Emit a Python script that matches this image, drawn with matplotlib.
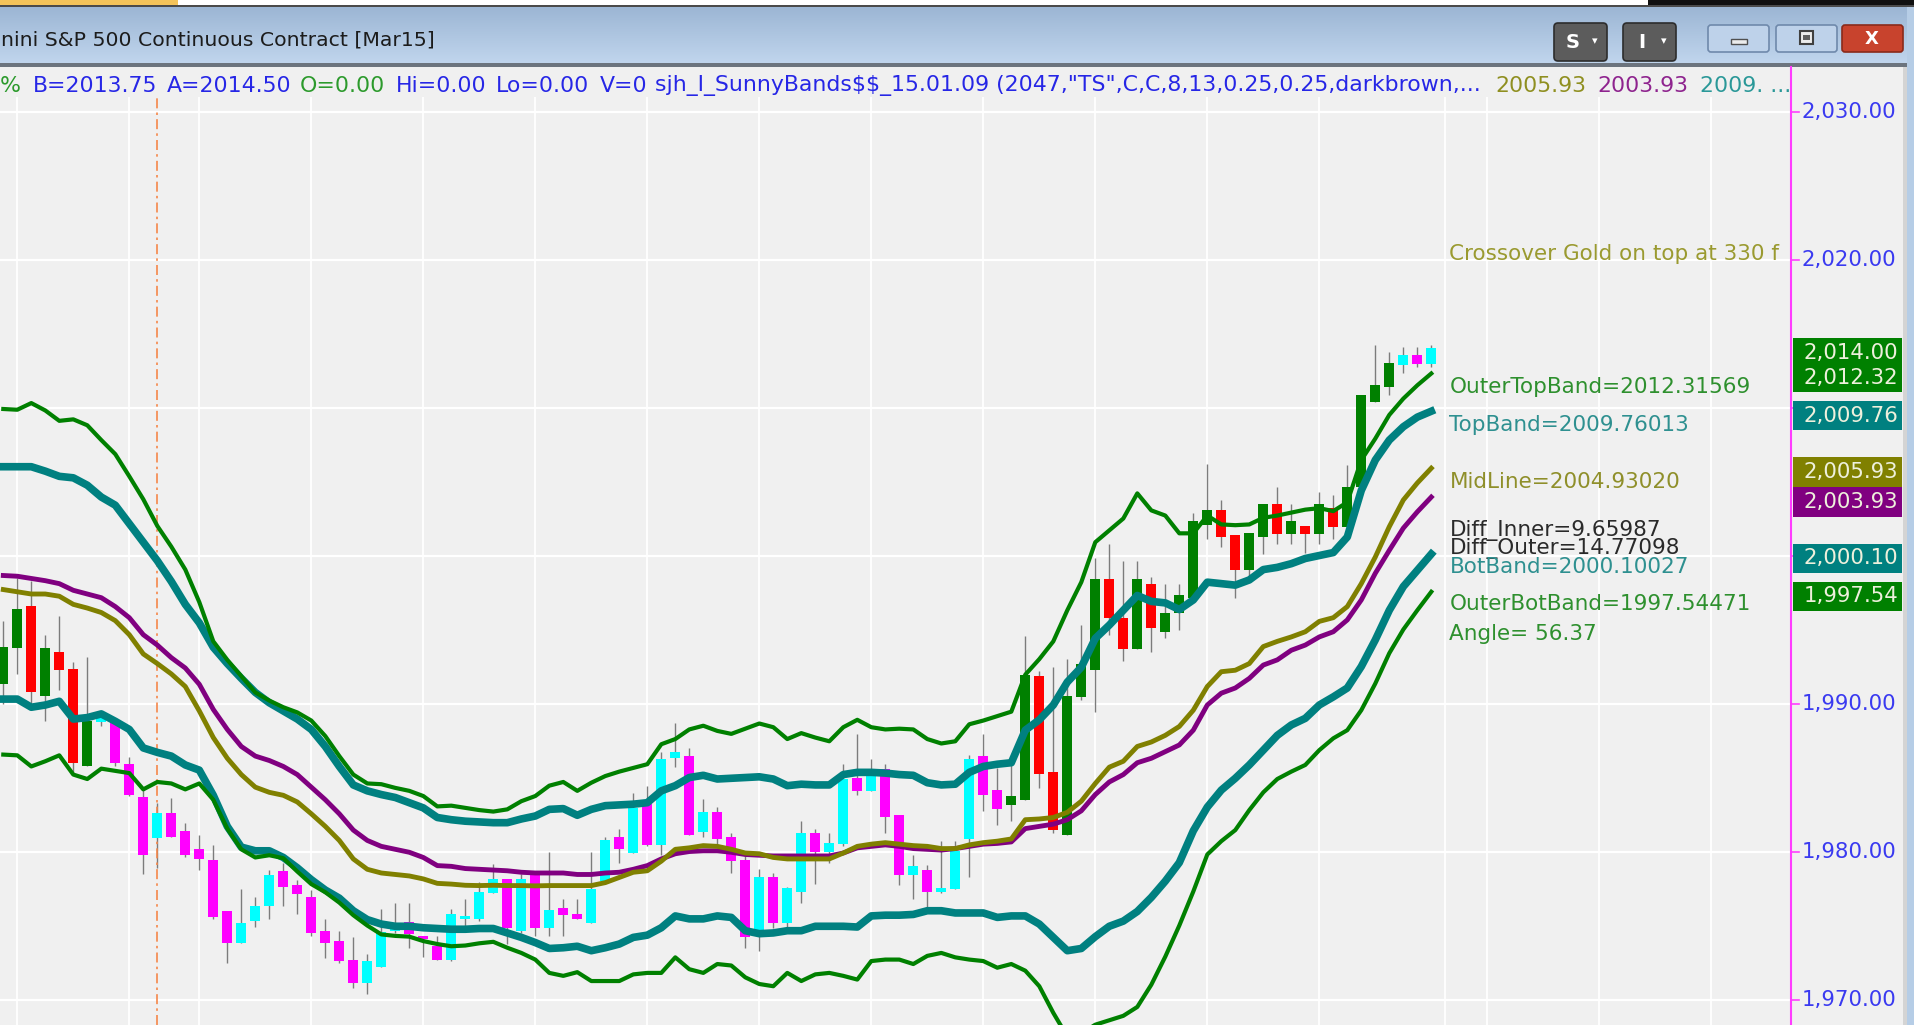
import numpy as np
import matplotlib
matplotlib.use("Agg")
import matplotlib.pyplot as plt
from matplotlib.patches import Rectangle, FancyBboxPatch
from matplotlib.lines import Line2D

plt.rcParams['text.parse_math'] = False

# ---------------- data ----------------
bar_open = [1991.3, 1993.75, 1996.6, 1990.5, 1993.5, 1992.3, 1985.75, 1988.75, 1988.75, 1985.9,
            1983.7, 1980.9, 1982.6, 1981.4, 1980.2, 1979.4, 1976.0, 1973.85, 1975.3, 1976.3,
            1978.7, 1977.75, 1976.9, 1974.6, 1973.95, 1972.7, 1971.1, 1972.2, 1974.6, 1975.25,
            1974.3, 1973.6, 1972.7, 1975.45, 1975.45, 1977.2, 1978.15, 1974.65, 1978.45, 1974.85,
            1976.2, 1975.8, 1975.2, 1978.0, 1980.95, 1979.9, 1983.2, 1980.45, 1986.35, 1986.45,
            1981.35, 1982.7, 1980.95, 1979.45, 1974.3, 1978.25, 1975.2, 1977.25, 1981.25, 1979.95,
            1980.5, 1985.0, 1984.1, 1985.55, 1982.45, 1978.4, 1978.75, 1977.25, 1977.45, 1980.85,
            1986.45, 1984.15, 1983.15, 1983.5, 1991.85, 1985.4, 1981.1, 1990.45, 1992.25, 1998.4,
            1995.8, 1993.7, 1998.1, 1994.8, 1996.1, 1997.1, 2002.05, 2003.05, 2001.4, 1999.0,
            2001.25, 2003.5, 2001.45, 2002.0, 2001.45, 2003.2, 2001.95, 2004.65, 2010.4, 2011.4,
            2012.9, 2013.55, 2012.95]
bar_high = [1995.6, 1998.5, 1998.25, 1994.6, 1995.9, 1992.8, 1993.15, 1989.25, 1988.75, 1986.4,
            1984.2, 1983.25, 1983.65, 1981.9, 1981.15, 1980.45, 1976.0, 1977.45, 1976.9, 1978.75,
            1979.2, 1978.1, 1977.4, 1975.45, 1974.6, 1974.2, 1973.1, 1976.1, 1976.5, 1976.5,
            1974.3, 1974.3, 1976.1, 1976.8, 1977.95, 1979.15, 1978.15, 1978.5, 1978.5, 1979.95,
            1976.8, 1976.8, 1979.95, 1980.95, 1981.5, 1983.95, 1984.45, 1986.7, 1988.7, 1987.0,
            1983.55, 1983.0, 1981.25, 1979.7, 1978.8, 1978.55, 1977.6, 1982.05, 1981.5, 1981.25,
            1985.9, 1987.95, 1986.25, 1985.9, 1982.45, 1979.75, 1979.1, 1980.7, 1980.7, 1986.5,
            1987.95, 1985.65, 1986.25, 1994.55, 1992.2, 1992.5, 1993.0, 1995.3, 1999.8, 2000.8,
            1999.65, 1999.65, 1998.55, 1998.1, 1998.1, 2002.9, 2006.2, 2003.75, 2001.4, 2001.5,
            2003.5, 2004.65, 2003.5, 2002.0, 2004.3, 2004.1, 2006.1, 2010.85, 2014.2, 2013.75,
            2014.1, 2014.1, 2014.25]
bar_low = [1990.0, 1992.0, 1990.0, 1988.85, 1990.9, 1985.3, 1985.75, 1988.5, 1985.75, 1983.75,
           1978.5, 1978.9, 1981.0, 1979.6, 1978.75, 1975.45, 1972.5, 1973.85, 1974.9, 1975.45,
           1976.3, 1975.75, 1974.3, 1972.8, 1972.5, 1970.8, 1970.4, 1972.2, 1974.5, 1973.5,
           1972.85, 1972.7, 1972.6, 1975.0, 1975.3, 1977.2, 1973.75, 1974.5, 1974.3, 1974.3,
           1974.3, 1975.45, 1975.2, 1978.0, 1979.2, 1979.9, 1980.35, 1979.75, 1985.7, 1981.1,
           1980.95, 1980.5, 1978.55, 1973.5, 1973.3, 1974.85, 1974.9, 1976.55, 1977.8, 1979.25,
           1980.4, 1983.85, 1984.1, 1981.25, 1977.75, 1976.8, 1976.2, 1977.2, 1977.45, 1978.25,
           1982.75, 1981.8, 1982.05, 1983.45, 1984.3, 1981.25, 1981.1, 1990.25, 1989.45, 1994.6,
           1992.9, 1993.7, 1993.45, 1994.4, 1994.95, 1997.1, 2001.15, 2000.6, 1997.1, 1998.55,
           2000.1, 2000.8, 2000.8, 2000.15, 2000.8, 2001.15, 2001.95, 2004.45, 2010.4, 2010.85,
           2012.35, 2012.75, 2012.75]
bar_close = [1993.8, 1996.4, 1990.75, 1993.75, 1992.25, 1986.0, 1988.8, 1989.0, 1986.0, 1983.85,
             1979.75, 1982.6, 1981.0, 1979.75, 1979.5, 1975.6, 1973.85, 1975.2, 1976.3, 1978.4,
             1977.6, 1977.1, 1974.5, 1973.85, 1972.6, 1971.15, 1972.6, 1974.55, 1975.1, 1974.4,
             1974.1, 1972.7, 1975.8, 1975.55, 1977.25, 1978.15, 1974.85, 1978.15, 1974.85, 1976.05,
             1975.7, 1975.45, 1977.45, 1980.8, 1980.15, 1982.95, 1980.45, 1986.25, 1986.75, 1981.1,
             1982.7, 1980.85, 1979.35, 1974.25, 1978.25, 1975.2, 1977.55, 1981.25, 1979.95, 1980.55,
             1984.9, 1984.1, 1985.55, 1982.35, 1978.4, 1979.05, 1977.25, 1977.55, 1980.05, 1986.25,
             1983.8, 1982.9, 1983.75, 1991.95, 1985.25, 1981.45, 1990.5, 1992.7, 1998.4, 1995.75,
             1993.7, 1998.4, 1995.1, 1996.1, 1997.35, 2002.3, 2003.05, 2001.25, 1999.0, 2001.5,
             2003.5, 2001.45, 2002.3, 2001.45, 2003.5, 2001.95, 2004.6, 2010.85, 2011.5, 2013.0,
             2013.55, 2012.95, 2014.0]
# 1 = trend colouring (green / red), 0 = neutral colouring (cyan / magenta)
bar_regime = [1, 1, 1, 1, 1, 1, 1, 0, 0, 0,
              0, 0, 0, 0, 0, 0, 0, 0, 0, 0,
              0, 0, 0, 0, 0, 0, 0, 0, 0, 0,
              0, 0, 0, 0, 0, 0, 0, 0, 0, 0,
              0, 0, 0, 0, 0, 0, 0, 0, 0, 0,
              0, 0, 0, 0, 0, 0, 0, 0, 0, 0,
              0, 0, 0, 0, 0, 0, 0, 0, 0, 0,
              0, 0, 1, 1, 1, 1, 1, 1, 1, 1,
              1, 1, 1, 1, 1, 1, 1, 1, 1, 1,
              1, 1, 1, 1, 1, 1, 1, 1, 1, 1,
              0, 0, 0]

outer_top = [2009.9, 2009.85, 2010.3, 2009.8, 2009.1, 2009.2, 2008.8, 2007.8, 2006.85, 2005.35,
             2003.8, 2002.0, 2000.6, 1999.05, 1996.85, 1994.2, 1992.95, 1991.85, 1990.75, 1990.2,
             1989.75, 1989.4, 1988.85, 1987.8, 1986.45, 1985.2, 1984.6, 1984.55, 1984.3, 1984.1,
             1983.75, 1983.05, 1983.1, 1982.95, 1982.8, 1982.7, 1982.85, 1983.4, 1983.75, 1984.45,
             1984.7, 1984.1, 1984.65, 1985.1, 1985.4, 1985.65, 1985.9, 1987.25, 1987.6, 1988.25,
             1988.5, 1988.15, 1987.95, 1988.3, 1988.65, 1988.4, 1987.6, 1988.0, 1987.7, 1987.45,
             1988.4, 1988.9, 1988.4, 1988.25, 1988.3, 1988.25, 1987.6, 1987.3, 1987.45, 1988.6,
             1988.85, 1989.15, 1989.45, 1991.95, 1993.0, 1994.2, 1996.3, 1998.2, 2000.9, 2001.7,
             2002.5, 2004.2, 2003.05, 2002.7, 2001.5, 2001.5, 2002.7, 2002.1, 2002.05, 2002.1,
             2002.55, 2002.7, 2002.9, 2003.1, 2003.2, 2003.0, 2003.6, 2006.45, 2007.9, 2009.5,
             2010.6, 2011.5, 2012.3]
top_band = [2006.0, 2006.0, 2006.0, 2005.7, 2005.35, 2005.25, 2004.75, 2003.95, 2003.4, 2002.15,
            2000.9, 1999.65, 1998.25, 1996.7, 1995.45, 1993.8, 1992.7, 1991.7, 1990.75, 1990.05,
            1989.5, 1988.95, 1988.25, 1987.1, 1985.75, 1984.5, 1984.1, 1983.85, 1983.65, 1983.3,
            1982.95, 1982.3, 1982.15, 1982.05, 1982.0, 1981.95, 1981.95, 1982.2, 1982.4, 1982.85,
            1982.9, 1982.45, 1982.85, 1983.1, 1983.15, 1983.2, 1983.3, 1984.1, 1984.45, 1985.0,
            1985.15, 1984.9, 1984.95, 1985.0, 1985.05, 1984.9, 1984.45, 1984.55, 1984.5, 1984.5,
            1985.2, 1985.35, 1985.35, 1985.3, 1985.2, 1985.15, 1984.65, 1984.5, 1984.55, 1985.35,
            1985.75, 1985.9, 1986.0, 1988.2, 1988.9, 1989.9, 1991.45, 1992.45, 1994.4, 1995.3,
            1996.3, 1997.3, 1996.9, 1996.8, 1996.35, 1997.0, 1998.2, 1998.1, 1998.0, 1998.35,
            1999.05, 1999.2, 1999.45, 1999.8, 2000.0, 2000.2, 2001.25, 2004.4, 2006.45, 2007.8,
            2008.7, 2009.35, 2009.75]
mid_line = [1997.7, 1997.55, 1997.4, 1997.4, 1997.25, 1996.7, 1996.45, 1996.15, 1995.6, 1994.65,
            1993.35, 1992.7, 1992.0, 1991.15, 1989.5, 1987.7, 1986.3, 1985.2, 1984.35, 1984.0,
            1983.8, 1983.35, 1982.55, 1981.7, 1980.75, 1979.5, 1978.8, 1978.55, 1978.45, 1978.35,
            1978.15, 1977.85, 1977.8, 1977.72, 1977.7, 1977.72, 1977.7, 1977.7, 1977.68, 1977.7,
            1977.7, 1977.7, 1977.7, 1977.9, 1978.25, 1978.6, 1978.7, 1979.35, 1980.15, 1980.25,
            1980.4, 1980.35, 1980.15, 1979.9, 1979.85, 1979.6, 1979.5, 1979.5, 1979.5, 1979.5,
            1979.9, 1980.35, 1980.5, 1980.6, 1980.5, 1980.4, 1980.35, 1980.2, 1980.2, 1980.45,
            1980.6, 1980.7, 1980.85, 1982.15, 1982.2, 1982.3, 1982.65, 1983.4, 1984.6, 1985.7,
            1986.1, 1987.1, 1987.4, 1987.85, 1988.45, 1989.55, 1991.15, 1992.15, 1992.25, 1992.7,
            1993.85, 1994.2, 1994.5, 1994.85, 1995.55, 1995.8, 1996.55, 1998.1, 1999.9, 2001.95,
            2003.75, 2004.9, 2005.9]
purple_line = [1998.65, 1998.6, 1998.45, 1998.3, 1998.1, 1997.65, 1997.4, 1997.15, 1996.55, 1995.8,
               1994.65, 1993.95, 1993.1, 1992.4, 1991.3, 1989.6, 1988.25, 1987.1, 1986.45, 1986.15,
               1985.75, 1985.2, 1984.35, 1983.5, 1982.55, 1981.45, 1980.75, 1980.35, 1980.15, 1979.95,
               1979.6, 1979.05, 1979.0, 1978.85, 1978.8, 1978.75, 1978.7, 1978.6, 1978.55, 1978.55,
               1978.55, 1978.45, 1978.45, 1978.55, 1978.6, 1978.8, 1979.05, 1979.5, 1979.85, 1980.0,
               1980.05, 1980.05, 1979.95, 1979.8, 1979.75, 1979.7, 1979.7, 1979.7, 1979.7, 1979.7,
               1979.9, 1980.25, 1980.35, 1980.45, 1980.35, 1980.2, 1980.15, 1980.1, 1980.2, 1980.35,
               1980.5, 1980.55, 1980.65, 1981.55, 1981.7, 1981.85, 1982.15, 1982.75, 1983.85, 1984.7,
               1985.2, 1986.0, 1986.3, 1986.75, 1987.2, 1988.2, 1989.9, 1990.7, 1991.05, 1991.7,
               1992.6, 1992.95, 1993.6, 1993.95, 1994.5, 1994.85, 1995.65, 1997.0, 1998.8, 2000.35,
               2001.85, 2002.95, 2003.95]
bot_band = [1990.3, 1990.3, 1989.75, 1989.9, 1990.15, 1988.95, 1989.05, 1989.3, 1988.8, 1988.25,
            1987.0, 1986.7, 1986.45, 1985.85, 1985.5, 1983.8, 1981.7, 1980.3, 1980.05, 1980.05,
            1979.6, 1978.9, 1978.1, 1977.4, 1976.85, 1976.0, 1975.4, 1975.1, 1974.95, 1974.95,
            1974.85, 1974.8, 1974.75, 1974.75, 1974.8, 1974.8, 1974.5, 1974.2, 1973.85, 1973.45,
            1973.5, 1973.6, 1973.3, 1973.5, 1973.75, 1974.2, 1974.35, 1974.85, 1975.65, 1975.45,
            1975.45, 1975.65, 1975.55, 1974.65, 1974.45, 1974.5, 1974.65, 1974.65, 1974.95, 1974.95,
            1974.95, 1974.9, 1975.65, 1975.7, 1975.7, 1975.75, 1976.0, 1976.0, 1975.85, 1975.85,
            1975.85, 1975.55, 1975.65, 1975.65, 1975.1, 1974.2, 1973.3, 1973.45, 1974.25, 1974.95,
            1975.3, 1975.95, 1976.9, 1978.0, 1979.25, 1981.4, 1983.0, 1984.15, 1984.95, 1985.85,
            1986.85, 1987.85, 1988.55, 1989.0, 1989.9, 1990.45, 1991.05, 1992.5, 1994.3, 1996.3,
            1997.9, 1999.0, 2000.1]
outer_bot = [1986.55, 1986.5, 1985.75, 1986.1, 1986.5, 1985.2, 1984.9, 1985.6, 1985.45, 1985.3,
             1984.2, 1984.7, 1984.6, 1984.2, 1984.6, 1983.5, 1981.55, 1980.15, 1979.6, 1979.75,
             1979.55, 1978.65, 1977.8, 1977.25, 1976.55, 1975.7, 1975.0, 1974.4, 1974.3, 1974.25,
             1973.95, 1973.75, 1973.6, 1973.65, 1973.8, 1973.9, 1973.5, 1973.15, 1972.7, 1971.8,
             1971.6, 1971.85, 1971.25, 1971.25, 1971.25, 1971.7, 1971.8, 1971.8, 1972.85, 1972.05,
             1971.8, 1972.4, 1972.3, 1971.5, 1971.05, 1970.9, 1971.8, 1971.25, 1971.7, 1971.8,
             1971.6, 1971.35, 1972.6, 1972.7, 1972.7, 1972.4, 1972.95, 1973.15, 1972.85, 1972.7,
             1972.6, 1972.15, 1972.4, 1971.95, 1970.9, 1969.1, 1967.5, 1967.7, 1968.3, 1968.6,
             1968.9, 1969.5, 1971.0, 1972.9, 1975.0, 1977.3, 1979.8, 1980.7, 1981.45, 1982.8,
             1984.0, 1984.9, 1985.4, 1985.85, 1986.85, 1987.65, 1988.2, 1989.55, 1991.35, 1993.4,
             1995.0, 1996.3, 1997.55]

y_ticks = [2030, 2020, 2010, 2000, 1990, 1980, 1970]
grid_bars = [1, 9, 14, 22, 30, 38, 46, 54, 62, 70, 78, 86, 94, 103, 106, 114, 122]
marker_bar = 11

# last-value boxes on the price axis (groups that touch are merged)
box_values = [[2014.00, 2012.32], [2009.76], [2005.93], [2003.93], [2000.10], [1997.54]]
box_colors = ['#008000', '#008080', '#808000', '#800080', '#008080', '#008000']

indicator_texts = ["Crossover Gold on top at 330 f", "OuterTopBand=2012.31569", "TopBand=2009.76013",
                   "MidLine=2004.93020", "Diff_Inner=9.65987", "Diff_Outer=14.77098",
                   "BotBand=2000.10027", "OuterBotBand=1997.54471", "Angle= 56.37"]

status_texts = ["%", "B=2013.75", "A=2014.50", "O=0.00", "Hi=0.00", "Lo=0.00", "V=0",
                'sjh_I_SunnyBands$$_15.01.09 (2047,"TS",C,C,8,13,0.25,0.25,darkbrown,...',
                "2005.93", "2003.93", "2009. ..."]

title_text = "nini S&P 500 Continuous Contract [Mar15]"

# ---------------- figure ----------------
W, H = 1915, 1025
DPI = 100
BG = '#f0f0f0'
fig = plt.figure(figsize=(W / DPI, H / DPI), dpi=DPI, facecolor=BG)

# window chrome, in pixel coordinates
axc = fig.add_axes([0, 0, 1, 1], zorder=0)
axc.set_facecolor(BG)
grad = np.linspace(0, 1, 64)[:, None, None]
top_col = np.array([156, 182, 212]) / 255.0
bot_col = np.array([192, 213, 237]) / 255.0
img = top_col[None, None, :] * (1 - grad) + bot_col[None, None, :] * grad
axc.imshow(img, extent=(0, W, 63, 7), aspect='auto', origin='upper', zorder=0, interpolation='bilinear')
axc.set_xlim(0, W)
axc.set_ylim(H, 0)
axc.axis('off')

axc.add_patch(Rectangle((0, 0), 178, 5, facecolor='#f3c35a', edgecolor='none', zorder=1))
axc.add_patch(Rectangle((178, 0), 1470, 5, facecolor='white', edgecolor='none', zorder=1))
axc.add_patch(Rectangle((1648, 0), W - 1648, 5, facecolor='#101010', edgecolor='none', zorder=1))
axc.add_patch(Rectangle((0, 5), W, 2, facecolor='#4a4a4a', edgecolor='none', zorder=1))
axc.add_patch(Rectangle((0, 63), W, 4, facecolor='#6c747e', edgecolor='none', zorder=1))
axc.add_patch(Rectangle((1903, 67), 4, H - 67, facecolor='#d4d4d4', edgecolor='none', zorder=1))
axc.add_patch(Rectangle((1907, 7), 8, H - 7, facecolor='#b6cde6', edgecolor='none', zorder=1))

axc.text(1, 40, title_text, fontsize=14.7, color='#1c1c1c', va='center', ha='left', zorder=2)

# S / I buttons
for bx, lab in [(1554, 'S'), (1623, 'I')]:
    axc.add_patch(FancyBboxPatch((bx, 23), 53, 38, boxstyle='round,pad=0,rounding_size=4',
                                 facecolor='#5c5c5c', edgecolor='#2c2c2c', lw=1.2, zorder=2))
    axc.text(bx + 19, 42, lab, fontsize=14, fontweight='bold', color='white', va='center', ha='center', zorder=3)
    axc.text(bx + 41, 41, '\u25BE', fontsize=8, color='white', va='center', ha='center', zorder=3)
# window buttons
for bx, fc, ec in [(1708, '#bed2ea', '#6f89ab'), (1776, '#bed2ea', '#6f89ab'), (1842, '#c8432d', '#8a2a1a')]:
    axc.add_patch(FancyBboxPatch((bx, 25), 61, 27, boxstyle='round,pad=0,rounding_size=3',
                                 facecolor=fc, edgecolor=ec, lw=1.2, zorder=2))
axc.add_patch(Rectangle((1731, 39), 16, 5, facecolor='#ececec', edgecolor='#505050', lw=1, zorder=3))
axc.add_patch(Rectangle((1800, 31), 13, 13, facecolor='#ececec', edgecolor='#404040', lw=1.5, zorder=3))
axc.add_patch(Rectangle((1803, 35), 7, 5, facecolor='#606060', edgecolor='none', zorder=4))
axc.text(1872, 39, 'X', fontsize=13, fontweight='bold', color='white', va='center', ha='center', zorder=3)

# status line
status_x = [0, 33, 167, 300, 396, 496, 600, 655, 1495, 1597, 1700]
status_c = ['#2c9a2c', '#2626e6', '#2626e6', '#2c9a2c', '#2626e6', '#2626e6', '#2626e6', '#2626e6',
            '#8f8f20', '#8e238e', '#2a9898']
for sx, s, sc in zip(status_x, status_texts, status_c):
    axc.text(sx, 86, s, fontsize=15.8, color=sc, va='center', ha='left', zorder=2)

# ---------------- main price panel ----------------
plot_right_px = 1791.5
plot_top_px = 97
px_per_bar = 14.0
ax_w = plot_right_px / W
ax_h = (H - plot_top_px) / H
ax = fig.add_axes([0, 0, ax_w, ax_h], zorder=1)
ax.set_facecolor(BG)
x0 = -3.3 / px_per_bar
ax.set_xlim(x0, x0 + plot_right_px / px_per_bar)
ax.set_ylim(1968.28, 2030.98)
for sp in ax.spines.values():
    sp.set_visible(False)
ax.set_xticks([])
ax.set_yticks([])

for v in y_ticks:
    ax.axhline(v, color='white', lw=1.6, zorder=0.5)
for g in grid_bars:
    ax.axvline(g, color='white', lw=1.3, zorder=0.5)

ax.axvline(marker_bar, color='#f5874a', lw=1.2, ls=(0, (6, 2.5, 1.5, 2.5)), zorder=2.5)

n = len(bar_close)
xs = np.arange(n)
o = np.array(bar_open)
c = np.array(bar_close)
hi = np.array(bar_high)
lo = np.array(bar_low)
reg = np.array(bar_regime)
up = c >= o
colors = np.where(reg == 1, np.where(up, '#008000', '#ff0000'), np.where(up, '#00ffff', '#ff00ff'))
ax.vlines(xs, lo, hi, color='#7c7c7c', lw=1.0, zorder=2)
body_lo = np.minimum(o, c)
body_h = np.maximum(np.abs(c - o), 0.22)
ax.bar(xs, body_h, width=0.7, bottom=body_lo, color=colors, linewidth=0, zorder=3)

ax.plot(xs, purple_line, color='#800080', lw=3.5, zorder=4)
ax.plot(xs, mid_line, color='#808000', lw=3.5, zorder=4.1)
ax.plot(xs, bot_band, color='#008080', lw=5.5, zorder=5)
ax.plot(xs, top_band, color='#008080', lw=5.5, zorder=5)
ax.plot(xs, outer_bot, color='#008000', lw=3.0, zorder=6)
ax.plot(xs, outer_top, color='#008000', lw=3.0, zorder=6)

label_y = [2020.4, 2011.4, 2008.8, 2005.0, 2001.7, 2000.5, 1999.25, 1996.7, 1994.7]
label_c = ['#9a9a30', '#2e902e', '#2e9090', '#8f8f2a', '#2a2a2a', '#2a2a2a', '#2e9090', '#2e902e', '#2e902e']
for s, yv, col in zip(indicator_texts, label_y, label_c):
    ax.text(103.3, yv, s, color=col, fontsize=15.5, va='center', ha='left', zorder=7)

# ---------------- price axis panel ----------------
axr = fig.add_axes([ax_w, 0, (1903 - plot_right_px) / W, ax_h], zorder=2)
axr.set_xlim(0, 1)
axr.set_ylim(ax.get_ylim())
axr.axis('off')

shift = -0.3
half = 1.0
box_ranges = []
for vals, col in zip(box_values, box_colors):
    top = max(vals) + shift + half
    bot = min(vals) + shift - half
    box_ranges.append((bot, top))
    axr.add_patch(Rectangle((0.012, bot), 0.975, top - bot, facecolor=col, edgecolor='none', zorder=3))
    for v in vals:
        axr.text(0.105, v + shift, f'{v:,.2f}', color='#eef0dc', fontsize=15.3, va='center', ha='left', zorder=4)

for v in y_ticks:
    axr.plot([0, 0.07], [v, v], color='#ff40ff', lw=1.2, zorder=1)
    hidden = any(b - 0.3 <= v <= t + 0.3 for b, t in box_ranges)
    if not hidden:
        axr.text(0.092, v, f'{v:,.2f}', color='#3a3af0', fontsize=15.3, va='center', ha='left', zorder=1)

fig.add_artist(Line2D([ax_w, ax_w], [0, 1 - 67 / H], transform=fig.transFigure,
                      color='#ff3cff', lw=1.5, zorder=10))

fig.savefig('out.png', dpi=DPI, facecolor=BG)
